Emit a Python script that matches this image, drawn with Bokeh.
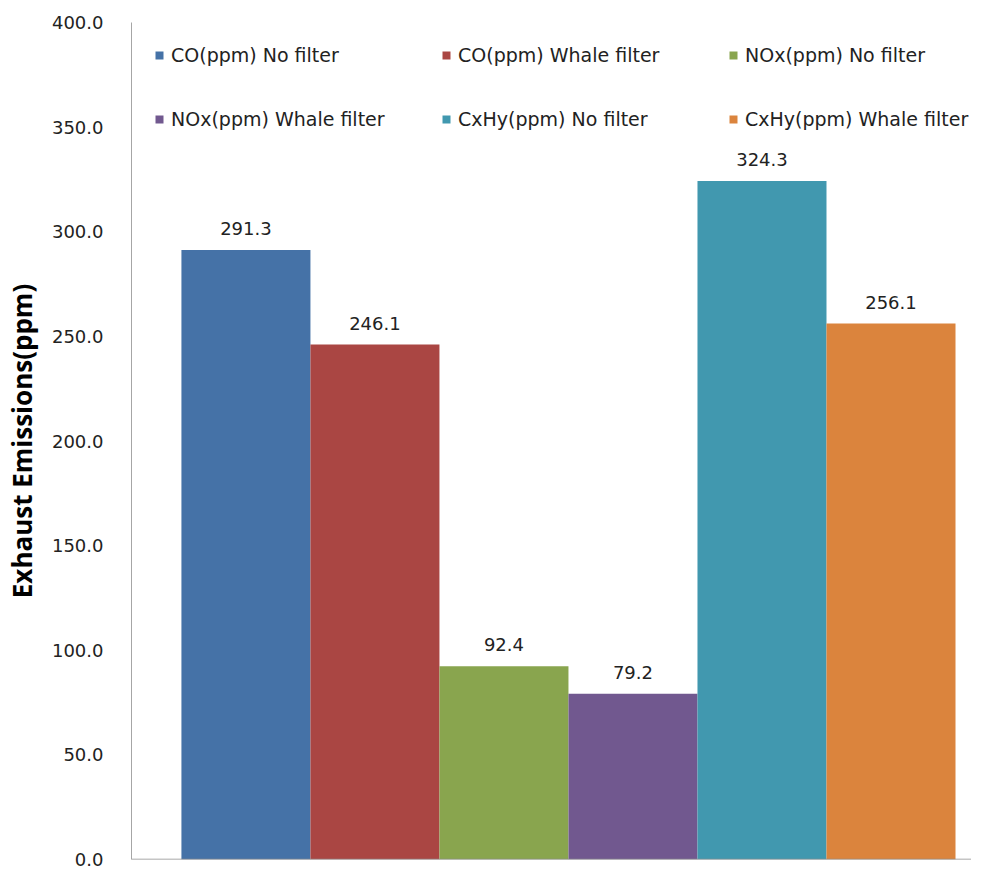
from bokeh.plotting import figure
from bokeh.models import (ColumnDataSource, Range1d, FixedTicker, PrintfTickFormatter,
                          Legend, LegendItem, LabelSet, Span)
from bokeh.core.properties import value
from bokeh.embed import file_html
from bokeh.resources import INLINE

# ---- data ----
series = ["CO(ppm) No filter", "CO(ppm) Whale filter", "NOx(ppm) No filter",
          "NOx(ppm) Whale filter", "CxHy(ppm) No filter", "CxHy(ppm) Whale filter"]
values = [291.3, 246.1, 92.4, 79.2, 324.3, 256.1]
colors = ["#4572A7", "#AA4643", "#89A54E", "#71588F", "#4198AF", "#DB843D"]
y_ticks = [0, 50, 100, 150, 200, 250, 300, 350, 400]
y_label = "Exhaust Emissions(ppm)"

positions = list(range(len(series)))
labels = ["%.1f" % v for v in values]

src = ColumnDataSource(dict(x=positions, top=values, color=colors,
                            name=series, label=labels))

p = figure(width=971, height=872, output_backend="svg", toolbar_location=None,
           x_range=Range1d(-0.887, 5.624), y_range=Range1d(0, 400),
           min_border_left=130, min_border_right=0, min_border_top=22,
           min_border_bottom=13)

r = p.vbar(x="x", top="top", width=1.0, bottom=0, source=src,
           fill_color="color", line_color=None)

# axes
p.xaxis.visible = False
p.xgrid.visible = False
p.ygrid.visible = False
p.outline_line_color = None

ya = p.yaxis[0]
ya.ticker = FixedTicker(ticks=y_ticks)
ya.formatter = PrintfTickFormatter(format="%.1f")
ya.major_tick_line_color = None
ya.minor_tick_line_color = None
ya.axis_line_color = "#a6a6a6"
ya.major_label_standoff = 22
ya.major_label_text_font = "DejaVu Sans"
ya.major_label_text_font_size = "18px"
ya.major_label_text_color = "#222222"
ya.axis_label = y_label
ya.axis_label_text_font = "Open Sans"
ya.axis_label_text_font_style = "bold"
ya.axis_label_text_font_size = "26px"
ya.axis_label_text_color = "#000000"
ya.axis_label_standoff = 9

p.add_layout(Span(location=0, dimension="width", line_color="#8c8c8c", line_width=1.5))

# value labels
p.add_layout(LabelSet(x="x", y="top", text="label", source=src, y_offset=15,
                      text_align="center", text_baseline="alphabetic",
                      text_font=value("DejaVu Sans"), text_font_size=value("18px"),
                      text_color="#222222"))

# legend (column-major fill -> reorder so it reads row by row)
order = [0, 3, 1, 4, 2, 5]
items = [LegendItem(label=series[i], renderers=[r], index=i) for i in order]
legend = Legend(items=items, ncols=3, location=(23, 718),
                glyph_width=10, glyph_height=10, label_standoff=7,
                label_width=250, label_height=44, spacing=20,
                padding=0, margin=0, border_line_color=None,
                background_fill_alpha=0,
                label_text_font="DejaVu Sans", label_text_font_size="19px",
                label_text_color="#222222")
p.add_layout(legend)

open("out.html", "w").write(file_html(p, INLINE))
